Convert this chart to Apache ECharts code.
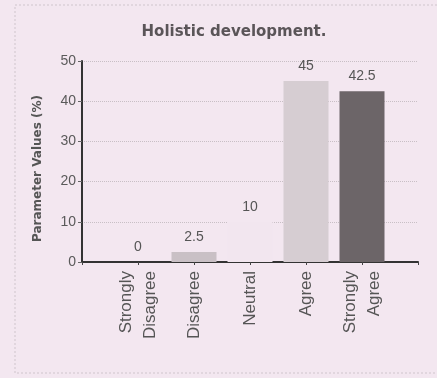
<!DOCTYPE html>
<html>
<head>
<meta charset="utf-8">
<script src="https://cdn.jsdelivr.net/npm/echarts@6/dist/echarts.min.js"></script>
<style>
  html, body { margin: 0; padding: 0; background: #f3e7f0; }
  #chart { width: 437px; height: 378px; }
</style>
</head>
<body>
<div id="chart"></div>
<script>
// responses and their share (%)
const categories = ["Strongly\nDisagree", "Disagree", "Neutral", "Agree", "Strongly\nAgree"];
const values = [0, 2.5, 10, 45, 42.5];
const barColors = ["#d8ced4", "#c9c0c5", "#f2e6ef", "#d6cdd2", "#6c6568"];
const yTicks = [0, 10, 20, 30, 40, 50];

// pad one empty slot each side so the bars sit inside the axis span
const xData = [""].concat(categories, [""]);
const barData = [null].concat(values.map((v, i) => ({
  value: v,
  itemStyle: { color: barColors[i] }
})), [null]);

const chart = echarts.init(document.getElementById("chart"));
chart.setOption({
  backgroundColor: "#f3e7f0",
  animation: false,
  title: {
    text: "Holistic development.",
    left: 229,
    top: 20,
    textAlign: "center",
    textStyle: {
      fontFamily: "DejaVu Sans",
      fontSize: 15,
      fontWeight: "bold",
      color: "#5a5558"
    }
  },
  grid: { left: 82, right: 19, top: 61, bottom: 116 },
  xAxis: {
    type: "category",
    data: xData,
    boundaryGap: false,
    axisLine: { lineStyle: { color: "#333", width: 2 } },
    axisTick: { show: true, length: 3, lineStyle: { color: "#444" } },
    axisLabel: {
      rotate: 90,
      interval: 0,
      margin: 9,
      fontFamily: "Liberation Sans",
      fontSize: 17,
      lineHeight: 24,
      color: "#555"
    },
    splitLine: { show: false }
  },
  yAxis: {
    type: "value",
    min: yTicks[0],
    max: yTicks[yTicks.length - 1],
    interval: 10,
    name: "Parameter Values (%)",
    nameLocation: "middle",
    nameGap: 38,
    nameTextStyle: {
      fontFamily: "DejaVu Sans",
      fontSize: 12,
      fontWeight: "bold",
      color: "#555",
      padding: [0, 14, 0, 0]
    },
    axisLine: { show: true, lineStyle: { color: "#333", width: 2 } },
    axisTick: { show: true, length: 4, lineStyle: { color: "#666" } },
    axisLabel: {
      fontFamily: "Liberation Sans",
      fontSize: 14,
      color: "#5a5a5a",
      margin: 6
    },
    splitLine: {
      show: true,
      lineStyle: { color: "#c8bfc5", type: "dotted", width: 1 }
    }
  },
  series: [{
    type: "bar",
    data: barData,
    barWidth: 45,
    label: {
      show: true,
      position: "top",
      distance: 8,
      fontFamily: "Liberation Sans",
      fontSize: 14,
      color: "#555"
    }
  }],
  graphic: [{
    type: "rect",
    shape: { x: 15, y: 5, width: 430, height: 368 },
    style: { fill: "none", stroke: "#cfc5cc", lineWidth: 1, lineDash: [2, 2] },
    silent: true
  }]
});
</script>
</body>
</html>
